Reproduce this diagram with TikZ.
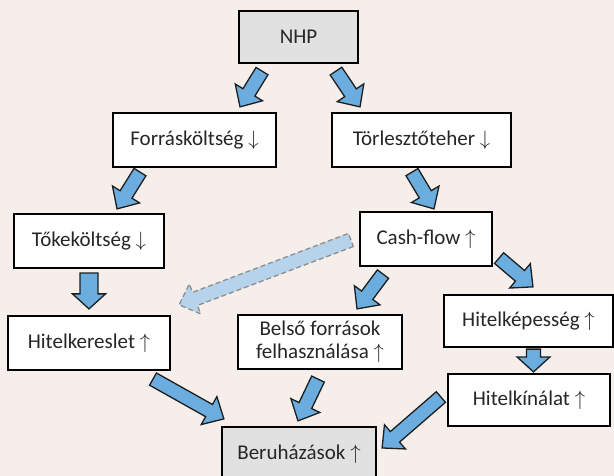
\documentclass[tikz,border=0pt]{standalone}
\usepackage{fontspec}
\setmainfont{Carlito}
\usetikzlibrary{calc}
\definecolor{bgcol}{HTML}{F5EEEB}
\definecolor{arrowblue}{HTML}{6CADDF}
\definecolor{arrowline}{HTML}{1E1E1E}
\definecolor{lightblue}{HTML}{B6D3EC}
\definecolor{dashgray}{HTML}{8E8E8E}
\definecolor{boxgray}{HTML}{E1E1E1}
\tikzset{
  barrowshape/.style n args={3}{to path={
    let \p1=(\tikztostart), \p2=(\tikztotarget),
        \n1={atan2(\y2-\y1,\x2-\x1)}, \n2={veclen(\x2-\x1,\y2-\y1)} in
    ([shift={(\p1)},rotate=\n1]0pt,#1pt)
    -- ([shift={(\p1)},rotate=\n1]\n2-#3pt,#1pt)
    -- ([shift={(\p1)},rotate=\n1]\n2-#3pt,#2pt)
    -- ([shift={(\p1)},rotate=\n1]\n2,0pt)
    -- ([shift={(\p1)},rotate=\n1]\n2-#3pt,-#2pt)
    -- ([shift={(\p1)},rotate=\n1]\n2-#3pt,-#1pt)
    -- ([shift={(\p1)},rotate=\n1]0pt,-#1pt) -- cycle}},
  barrow/.style={barrowshape={7}{16}{17}, draw=arrowline, fill=arrowblue, line width=1.3pt, line join=miter},
  barrowwide/.style={barrowshape={9}{16.5}{15}, draw=arrowline, fill=arrowblue, line width=1.3pt, line join=miter},
  barrowshort/.style={barrowshape={7}{16.5}{15}, draw=arrowline, fill=arrowblue, line width=1.3pt, line join=miter},
  barrowdash/.style={barrowshape={7}{16}{17}, draw=dashgray, fill=lightblue, line width=1.3pt, dash pattern=on 5pt off 3pt},
  box/.style={draw=black, line width=2.2pt, fill=white, inner sep=0pt, align=center,
    font=\fontsize{21}{23}\selectfont, text=black!85},
  graybox/.style={box, fill=boxgray}
}
\begin{document}
\begin{tikzpicture}[x=1pt,y=-1pt]
\useasboundingbox (0,0) rectangle (614,476);
\clip (0,0) rectangle (614,476);
\fill[bgcol] (0,0) rectangle (614,476);

% boxes
\node[graybox, minimum width=119pt, minimum height=52pt] (nhp) at (298.5,37) {NHP};
\node[box, minimum width=163pt, minimum height=54pt] (forr) at (194.5,140) {Forrásköltség $\downarrow$};
\node[box, minimum width=179pt, minimum height=54pt] (torl) at (421.5,140) {Törlesztőteher $\downarrow$};
\node[box, minimum width=150pt, minimum height=54pt] (toke) at (89,241) {Tőkeköltség $\downarrow$};
\node[box, minimum width=132pt, minimum height=54pt] (cash) at (426,239) {Cash-flow $\uparrow$};
\node[box, minimum width=162pt, minimum height=54pt] (keres) at (89,343) {Hitelkereslet $\uparrow$};
\node[box, minimum width=164pt, minimum height=54pt] (belso) at (320,342) {Belső források\\felhasználása $\uparrow$};
\node[box, minimum width=169pt, minimum height=52pt] (kepes) at (528.5,321) {Hitelképesség $\uparrow$};
\node[box, minimum width=162pt, minimum height=52pt] (kinal) at (529,400) {Hitelkínálat $\uparrow$};
\node[graybox, minimum width=154pt, minimum height=54pt] (beru) at (299,454) {Beruházások $\uparrow$};

% block arrows
\draw[barrow] ($(nhp.south)+(-36.5,7)$) to ($(forr.north)+(45.5,-5)$);
\draw[barrow] ($(nhp.south)+(37.5,7)$) to ($(torl.north)+(-61.5,-5)$);
\draw[barrow] ($(forr.south)+(-54.5,4)$) to ($(toke.north)+(28,-4)$);
\draw[barrow] ($(torl.south)+(-9.5,4)$) to ($(cash.north)+(8,-2)$);
\draw[barrowwide] ($(toke.south)+(0,4)$) to ($(keres.north)+(0,-6)$);
\draw[barrowdash] ($(cash.west)+(-8,1)$) to ($(keres.north east)+(8,-10)$);
\draw[barrow] ($(cash.south)+(-43,7)$) to ($(belso.north)+(37,-5)$);
\draw[barrow] ($(cash.south east)+(6,-9)$) to ($(kepes.north)+(4.5,-7)$);
\draw[barrowshort] ($(kepes.south)+(5,1)$) to ($(kinal.north)+(4.5,-1)$);
\draw[barrow] ($(keres.south)+(64,8)$) to ($(beru.north west)+(3,-7)$);
\draw[barrow] ($(belso.south)+(-2,9)$) to ($(beru.north)+(-1,-5)$);
\draw[barrow] ($(kinal.west)+(-6,-3)$) to ($(beru.east)+(5,-6)$);
\end{tikzpicture}
\end{document}
